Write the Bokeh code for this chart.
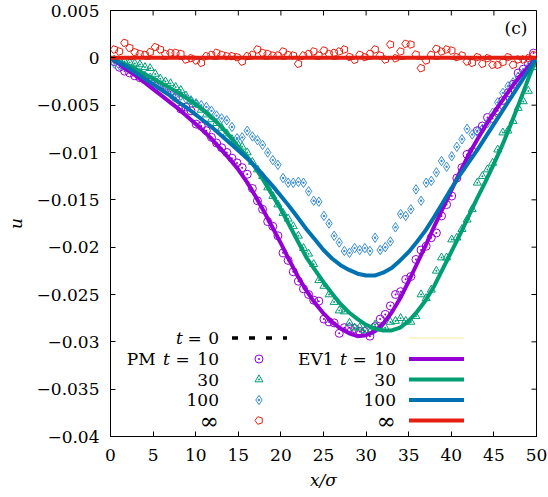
import math
from bokeh.plotting import figure
from bokeh.models import Range1d, LinearAxis, FixedTicker, Label, CustomJSTickFormatter
from bokeh.embed import file_html
from bokeh.resources import INLINE

# ---------------- data ----------------
x_ev1 = list(range(0, 51))
ev1_t0 = [0.0] * 51
ev1_t10 = [0.0, -0.0006, -0.0013, -0.0019, -0.0026, -0.0033, -0.0040, -0.0047, -0.0054, -0.0062,
           -0.0070, -0.0078, -0.0087, -0.0097, -0.0107, -0.0118, -0.0131, -0.0146, -0.0162, -0.0179,
           -0.0196, -0.0214, -0.0231, -0.0246, -0.0259, -0.0270, -0.0279, -0.0286, -0.0291, -0.0294,
           -0.0293, -0.0289, -0.0281, -0.0269, -0.0254, -0.0236, -0.0217, -0.0198, -0.0178, -0.0159,
           -0.0140, -0.0121, -0.0103, -0.0087, -0.0072, -0.0058, -0.0045, -0.0032, -0.0020, -0.0010, 0.0]
ev1_t30 = [0.0, -0.0004, -0.0008, -0.0012, -0.0017, -0.0022, -0.0027, -0.0032, -0.0037, -0.0043,
           -0.0049, -0.0056, -0.0064, -0.0073, -0.0083, -0.0094, -0.0104, -0.0116, -0.0130, -0.0145,
           -0.0160, -0.0177, -0.0194, -0.0211, -0.0224, -0.0237, -0.0249, -0.0260, -0.0269, -0.0276,
           -0.0282, -0.0286, -0.0288, -0.0288, -0.0285, -0.0278, -0.0268, -0.0256, -0.0241, -0.0223,
           -0.0205, -0.0187, -0.0168, -0.0149, -0.0131, -0.0112, -0.0092, -0.0070, -0.0047, -0.0023, 0.0]
ev1_t100 = [0.0, -0.0005, -0.0010, -0.0016, -0.0022, -0.0028, -0.0034, -0.0040, -0.0047, -0.0053,
            -0.0060, -0.0067, -0.0074, -0.0082, -0.0090, -0.0098, -0.0106, -0.0115, -0.0125, -0.0135,
            -0.0146, -0.0157, -0.0169, -0.0181, -0.0192, -0.0203, -0.0212, -0.0219, -0.0224, -0.0228,
            -0.0230, -0.0230, -0.0227, -0.0222, -0.0214, -0.0205, -0.0194, -0.0182, -0.0168, -0.0153,
            -0.0138, -0.0124, -0.0111, -0.0098, -0.0084, -0.0070, -0.0056, -0.0042, -0.0028, -0.0014, 0.0]
ev1_inf = [0.0] * 51

x_pm = [round(0.45 + 0.6 * k, 2) for k in range(83)]
pm_t10 = [-0.0004, -0.0010, -0.0014, -0.0016, -0.0019, -0.0021, -0.0023, -0.0025, -0.0026, -0.0030,
          -0.0033, -0.0036, -0.0042, -0.0054, -0.0052, -0.0056, -0.0070, -0.0072, -0.0077, -0.0084,
          -0.0090, -0.0095, -0.0100, -0.0106, -0.0111, -0.0116, -0.0123, -0.0138, -0.0151, -0.0160,
          -0.0173, -0.0178, -0.0188, -0.0206, -0.0214, -0.0226, -0.0236, -0.0244, -0.0250, -0.0256,
          -0.0257, -0.0276, -0.0279, -0.0280, -0.0291, -0.0285, -0.0285, -0.0286, -0.0289, -0.0289,
          -0.0294, -0.0284, -0.0276, -0.0271, -0.0262, -0.0250, -0.0247, -0.0234, -0.0231, -0.0213,
          -0.0203, -0.0199, -0.0190, -0.0185, -0.0167, -0.0155, -0.0146, -0.0127, -0.0116, -0.0102,
          -0.0099, -0.0077, -0.0072, -0.0063, -0.0064, -0.0056, -0.0045, -0.0037, -0.0028, -0.0016,
          -0.0012, -0.0006, 0.0005]
pm_t30 = [-0.0002, -0.0003, -0.0004, -0.0005, -0.0006, -0.0007, -0.0010, -0.0011, -0.0017, -0.0022,
          -0.0025, -0.0027, -0.0031, -0.0034, -0.0040, -0.0046, -0.0049, -0.0055, -0.0060, -0.0065,
          -0.0069, -0.0074, -0.0080, -0.0086, -0.0090, -0.0094, -0.0100, -0.0110, -0.0118, -0.0125,
          -0.0137, -0.0146, -0.0155, -0.0164, -0.0170, -0.0178, -0.0188, -0.0201, -0.0207, -0.0218,
          -0.0235, -0.0241, -0.0250, -0.0258, -0.0267, -0.0268, -0.0280, -0.0285, -0.0285, -0.0288,
          -0.0290, -0.0282, -0.0286, -0.0285, -0.0279, -0.0278, -0.0275, -0.0278, -0.0279, -0.0273,
          -0.0250, -0.0254, -0.0245, -0.0225, -0.0211, -0.0211, -0.0192, -0.0190, -0.0181, -0.0171,
          -0.0160, -0.0132, -0.0125, -0.0118, -0.0111, -0.0097, -0.0079, -0.0077, -0.0067, -0.0053,
          -0.0046, -0.0035, -0.0010]
pm_t100 = [-0.0006, -0.0008, -0.0009, -0.0012, -0.0014, -0.0016, -0.0019, -0.0021, -0.0025, -0.0030,
           -0.0033, -0.0038, -0.0039, -0.0040, -0.0043, -0.0045, -0.0048, -0.0050, -0.0052, -0.0056,
           -0.0061, -0.0064, -0.0066, -0.0073, -0.0085, -0.0084, -0.0077, -0.0083, -0.0087, -0.0092,
           -0.0100, -0.0108, -0.0113, -0.0127, -0.0132, -0.0132, -0.0131, -0.0132, -0.0141, -0.0151,
           -0.0152, -0.0167, -0.0175, -0.0188, -0.0195, -0.0204, -0.0206, -0.0201, -0.0203, -0.0201,
           -0.0204, -0.0190, -0.0203, -0.0200, -0.0194, -0.0179, -0.0165, -0.0167, -0.0160, -0.0139,
           -0.0151, -0.0132, -0.0130, -0.0121, -0.0109, -0.0115, -0.0104, -0.0094, -0.0086, -0.0075,
           -0.0081, -0.0078, -0.0075, -0.0069, -0.0058, -0.0047, -0.0037, -0.0030, -0.0026, -0.0020,
           -0.0016, -0.0010, -0.0004]
pm_inf = [0.00088, 0.00067, 0.00158, 0.00106, 0.0006, 0.00042, 0.00032, 0.0006, 0.00113, 0.00088,
          0.00042, 0.00053, 0.00053, 0.00042, -0.00018, -0.00004, -0.00028, -0.00053, 0.00018, 0.00032,
          0.00053, 0.00032, 0.00018, 0.00018, 0.00007, -0.00039, 0.00018, 0.00032, 0.00088, 0.00053,
          0.00042, 0.00025, 0.00025, 0.00067, 0.00032, 0.00025, -0.00063, 0.00025, 0.00042, 0.00067,
          0.00025,
          0.00077, 0.00042, 0.00053, 0.00067, 0.00088, 0.0001, -0.00021, 0.00032, 0.00007, 0.00042,
          0.00088, 0.00025, -0.00018, 0.00141, -0.00004, 0.00067, 0.00148, 0.00141, 0.00035, -0.00109,
          -0.00028, 0.00032, 0.00095, 0.00067, 0.00088, 0.00077, 0.00007, 0.00025, -0.00039, -0.00053,
          0.00007, -0.00063, -0.00004, -0.00074, -0.00074, -0.00046, 0.00007, -0.00074, -0.00018, -0.00018,
          -0.00004, 0.0003]

x_ticks = [0, 5, 10, 15, 20, 25, 30, 35, 40, 45, 50]
y_ticks = [-0.04, -0.035, -0.03, -0.025, -0.02, -0.015, -0.01, -0.005, 0.0, 0.005]
X_MIN, X_MAX = 0, 50
Y_MIN, Y_MAX = -0.04, 0.005

# ---------------- style ----------------
FONT = "DejaVu Serif"
FS = "17px"
FS_INF = "23px"
C_PURPLE = "#9400d3"
C_GREEN = "#009e73"
C_BLUE = "#0072b2"
C_BLUE_PM = "#3a8fd4"
C_RED = "#e51e10"
FW, FH = 426, 426
TICK = 5

p = figure(frame_width=FW, frame_height=FH, output_backend="svg", toolbar_location=None,
           x_range=Range1d(X_MIN, X_MAX), y_range=Range1d(Y_MIN, Y_MAX),
           min_border_left=110, min_border_right=11, min_border_top=10, min_border_bottom=50,
           x_axis_location=None, y_axis_location=None)
p.grid.visible = False
p.outline_line_color = "black"
p.outline_line_width = 1
p.background_fill_color = "white"
p.border_fill_color = "white"
p.extra_x_ranges = {"px": Range1d(0, FW)}
p.extra_y_ranges = {"px": Range1d(0, FH)}


def style_axis(ax, ticks):
    ax.ticker = FixedTicker(ticks=ticks)
    ax.major_tick_in = TICK
    ax.major_tick_out = 0
    ax.minor_tick_line_color = None
    ax.major_tick_line_color = "black"
    ax.axis_line_color = "black"
    ax.major_label_text_font = FONT
    ax.major_label_text_font_size = FS
    ax.major_label_text_color = "black"
    ax.axis_label_text_font = FONT
    ax.axis_label_text_font_size = FS
    ax.axis_label_text_font_style = "italic"
    ax.axis_label_text_color = "black"


yfmt = CustomJSTickFormatter(code="""
if (Math.abs(tick) < 1e-12) { return "0"; }
const s = parseFloat(Math.abs(tick).toFixed(4)).toString();
return (tick < 0 ? "\\u2212" : "") + s;
""")

xb = LinearAxis(axis_label="x/σ")
style_axis(xb, x_ticks)
xb.major_label_standoff = 12
xb.axis_label_standoff = 6
p.add_layout(xb, "below")

yl = LinearAxis(formatter=yfmt, axis_label="u")
style_axis(yl, y_ticks)
yl.major_label_standoff = 11
yl.axis_label_standoff = 8
p.add_layout(yl, "left")

# mirror ticks on the top and right frame edges
p.ray(x=x_ticks, y=[Y_MAX] * len(x_ticks), length=TICK, length_units="screen",
      angle=-math.pi / 2, line_color="black", line_width=1)
p.ray(x=[X_MAX] * len(y_ticks), y=y_ticks, length=TICK, length_units="screen",
      angle=math.pi, line_color="black", line_width=1)

# ---------------- PM markers ----------------
mk = dict(fill_color=None, line_width=1, size=8)
p.scatter(x_pm, pm_t10, marker="circle_dot", line_color=C_PURPLE, **mk)
p.scatter(x_pm, pm_t30, marker="triangle_dot", line_color=C_GREEN, **mk)
p.scatter(x_pm, pm_t100, marker="diamond_dot", line_color=C_BLUE_PM, fill_color=None, line_width=1, size=9.5)


def pentagons(xs, ys, **kw):
    try:
        return p.ngon(x=xs, y=ys, radius=4, radius_units="screen", n=5, angle=math.pi / 2,
                      fill_color=None, line_width=1, **kw)
    except Exception:
        return p.scatter(xs, ys, marker="hex", size=8, fill_color=None, line_width=1, **kw)


pentagons(x_pm, pm_inf, line_color=C_RED)

# ---------------- EV1 lines ----------------
p.line(x_ev1, ev1_t0, line_color="black", line_width=3.5, line_dash="6 11")
p.line(x_ev1, ev1_t10, line_color=C_PURPLE, line_width=4)
p.line(x_ev1, ev1_t30, line_color=C_GREEN, line_width=4)
p.line(x_ev1, ev1_t100, line_color=C_BLUE, line_width=4)
p.line(x_ev1, ev1_inf, line_color=C_RED, line_width=4)

# ---------------- legend (frame pixel coordinates) ----------------
rows = [98.5, 77.5, 57.0, 36.5, 16.0]
L_TXT_R, L_MK, L_L0, L_L1 = 108.5, 148.5, 121.5, 176.5
R_TXT_R, R_L0, R_L1 = 285.5, 298.5, 353.5
px = dict(x_range_name="px", y_range_name="px")


def lab(x, y, text, align="right", style="normal", size=FS):
    p.add_layout(Label(x=x, y=y, text=text, text_align=align, text_baseline="middle",
                       text_font=FONT, text_font_size=size, text_font_style=style,
                       text_color="black", **px))


# row 1: t = 0
lab(69, rows[0], "t", "center", "italic")
lab(84, rows[0], "=", "center")
lab(L_TXT_R, rows[0], "0")
p.line([L_L0, L_L1], [rows[0], rows[0]], line_color="black", line_width=3.5, line_dash="6 11", **px)
p.line([R_L0, R_L1], [rows[0], rows[0]], line_color="#f3eba0", line_width=1.2, **px)

# row 2
lab(16.2, rows[1], "PM", "left")
lab(56, rows[1], "t", "center", "italic")
lab(72, rows[1], "=", "center")
lab(L_TXT_R, rows[1], "10")
lab(187.5, rows[1], "EV1", "left")
lab(233, rows[1], "t", "center", "italic")
lab(249, rows[1], "=", "center")
lab(R_TXT_R, rows[1], "10")

for r, t in zip(rows[2:4], ["30", "100"]):
    lab(L_TXT_R, r, t)
    lab(R_TXT_R, r, t)
lab(L_TXT_R, rows[4], "∞", size=FS_INF)
lab(R_TXT_R, rows[4], "∞", size=FS_INF)

p.scatter([L_MK], [rows[1]], marker="circle_dot", line_color=C_PURPLE, **mk, **px)
p.scatter([L_MK], [rows[2]], marker="triangle_dot", line_color=C_GREEN, **mk, **px)
p.scatter([L_MK], [rows[3]], marker="diamond_dot", line_color=C_BLUE_PM, fill_color=None,
          line_width=1, size=9.5, **px)
try:
    p.ngon(x=[L_MK], y=[rows[4]], radius=4, radius_units="screen", n=5, angle=math.pi / 2,
           fill_color=None, line_width=1, line_color=C_RED, **px)
except Exception:
    p.scatter([L_MK], [rows[4]], marker="hex", size=8, fill_color=None, line_width=1,
              line_color=C_RED, **px)

for r, c in zip(rows[1:], [C_PURPLE, C_GREEN, C_BLUE, C_RED]):
    p.line([R_L0, R_L1], [r, r], line_color=c, line_width=4, **px)

# panel tag
lab(405.5, 408.5, "(c)", "center")

open("out.html", "w").write(file_html(p, INLINE))
